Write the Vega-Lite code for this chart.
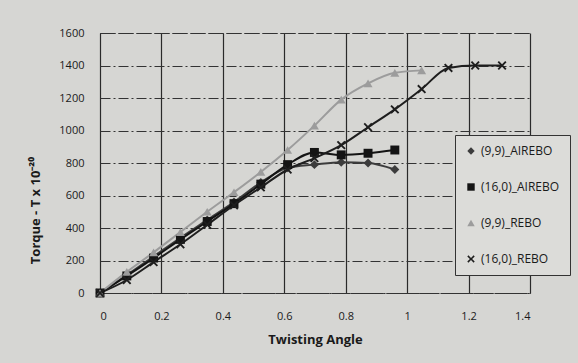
{
  "$schema": "https://vega.github.io/schema/vega-lite/v6.json",
  "width": 430,
  "height": 260,
  "autosize": {"type": "none"},
  "padding": {"left": 100, "top": 33, "right": 48, "bottom": 70},
  "background": "#d6d6d3",
  "config": {
    "view": {"stroke": "#333", "strokeWidth": 1, "strokeDash": [6, 3]},
    "font": "Open Sans"
  },
  "data": {
    "values": [
      {"s": "(9,9)_AIREBO", "x": 0, "y": 0},
      {"s": "(9,9)_AIREBO", "x": 0.0873, "y": 110},
      {"s": "(9,9)_AIREBO", "x": 0.1745, "y": 225},
      {"s": "(9,9)_AIREBO", "x": 0.2618, "y": 340},
      {"s": "(9,9)_AIREBO", "x": 0.3491, "y": 450},
      {"s": "(9,9)_AIREBO", "x": 0.4363, "y": 560},
      {"s": "(9,9)_AIREBO", "x": 0.5236, "y": 680},
      {"s": "(9,9)_AIREBO", "x": 0.6109, "y": 770},
      {"s": "(9,9)_AIREBO", "x": 0.6981, "y": 790},
      {"s": "(9,9)_AIREBO", "x": 0.7854, "y": 805},
      {"s": "(9,9)_AIREBO", "x": 0.8727, "y": 800},
      {"s": "(9,9)_AIREBO", "x": 0.9599, "y": 760},
      {"s": "(16,0)_AIREBO", "x": 0, "y": 0},
      {"s": "(16,0)_AIREBO", "x": 0.0873, "y": 105},
      {"s": "(16,0)_AIREBO", "x": 0.1745, "y": 215},
      {"s": "(16,0)_AIREBO", "x": 0.2618, "y": 330},
      {"s": "(16,0)_AIREBO", "x": 0.3491, "y": 440},
      {"s": "(16,0)_AIREBO", "x": 0.4363, "y": 550},
      {"s": "(16,0)_AIREBO", "x": 0.5236, "y": 670},
      {"s": "(16,0)_AIREBO", "x": 0.6109, "y": 790},
      {"s": "(16,0)_AIREBO", "x": 0.6981, "y": 865},
      {"s": "(16,0)_AIREBO", "x": 0.7854, "y": 850},
      {"s": "(16,0)_AIREBO", "x": 0.8727, "y": 860},
      {"s": "(16,0)_AIREBO", "x": 0.9599, "y": 880},
      {"s": "(9,9)_REBO", "x": 0, "y": 0},
      {"s": "(9,9)_REBO", "x": 0.0873, "y": 130},
      {"s": "(9,9)_REBO", "x": 0.1745, "y": 250},
      {"s": "(9,9)_REBO", "x": 0.2618, "y": 375},
      {"s": "(9,9)_REBO", "x": 0.3491, "y": 500},
      {"s": "(9,9)_REBO", "x": 0.4363, "y": 620},
      {"s": "(9,9)_REBO", "x": 0.5236, "y": 745},
      {"s": "(9,9)_REBO", "x": 0.6109, "y": 880},
      {"s": "(9,9)_REBO", "x": 0.6981, "y": 1030},
      {"s": "(9,9)_REBO", "x": 0.7854, "y": 1190},
      {"s": "(9,9)_REBO", "x": 0.8727, "y": 1290},
      {"s": "(9,9)_REBO", "x": 0.9599, "y": 1355},
      {"s": "(9,9)_REBO", "x": 1.0472, "y": 1370},
      {"s": "(16,0)_REBO", "x": 0, "y": 0},
      {"s": "(16,0)_REBO", "x": 0.0873, "y": 80},
      {"s": "(16,0)_REBO", "x": 0.1745, "y": 190},
      {"s": "(16,0)_REBO", "x": 0.2618, "y": 300},
      {"s": "(16,0)_REBO", "x": 0.3491, "y": 420},
      {"s": "(16,0)_REBO", "x": 0.4363, "y": 540},
      {"s": "(16,0)_REBO", "x": 0.5236, "y": 650},
      {"s": "(16,0)_REBO", "x": 0.6109, "y": 760},
      {"s": "(16,0)_REBO", "x": 0.6981, "y": 830},
      {"s": "(16,0)_REBO", "x": 0.7854, "y": 910},
      {"s": "(16,0)_REBO", "x": 0.8727, "y": 1020},
      {"s": "(16,0)_REBO", "x": 0.9599, "y": 1130},
      {"s": "(16,0)_REBO", "x": 1.0472, "y": 1255},
      {"s": "(16,0)_REBO", "x": 1.1345, "y": 1385},
      {"s": "(16,0)_REBO", "x": 1.2217, "y": 1400},
      {"s": "(16,0)_REBO", "x": 1.309, "y": 1400}
    ]
  },
  "encoding": {
    "x": {
      "field": "x", "type": "quantitative",
      "scale": {"domain": [0, 1.4], "nice": false, "zero": false},
      "axis": {
        "title": "Twisting Angle",
        "values": [0, 0.2, 0.4, 0.6, 0.8, 1, 1.2, 1.4],
        "format": "~g",
        "grid": true, "gridColor": "#2a2a2a", "gridWidth": 1.2, "gridOpacity": 1,
        "domain": true, "domainColor": "#333", "domainDash": [8, 3],
        "ticks": false,
        "labelPadding": 17, "labelFontSize": 11, "labelColor": "#1a1a1a", "labelFont": "Open Sans",
        "titleFontSize": 13, "titleFontWeight": "bold", "titleColor": "#1a1a1a", "titlePadding": 12, "titleFont": "Open Sans"
      }
    },
    "y": {
      "field": "y", "type": "quantitative",
      "scale": {"domain": [0, 1600], "nice": false},
      "axis": {
        "title": "Torque - T x 10⁻²⁰",
        "values": [0, 200, 400, 600, 800, 1000, 1200, 1400, 1600],
        "format": "d",
        "grid": true, "gridColor": "#333", "gridWidth": 1.2, "gridDash": [10, 3, 2, 3], "gridOpacity": 1,
        "domain": false,
        "ticks": false,
        "labelPadding": 16, "labelFontSize": 11, "labelColor": "#1a1a1a", "labelFont": "Open Sans",
        "titleFontSize": 13, "titleFontWeight": "bold", "titleColor": "#1a1a1a", "titleFont": "Open Sans",
        "titleAngle": -90, "titleX": -65, "titleY": 177, "titleAlign": "center", "titleBaseline": "middle"
      }
    },
    "color": {
      "field": "s", "type": "nominal",
      "scale": {"domain": ["(9,9)_AIREBO", "(16,0)_AIREBO", "(9,9)_REBO", "(16,0)_REBO"], "range": ["#3c3c3c", "#141414", "#9c9c9c", "#1e1e1e"]},
      "legend": {
        "title": null, "orient": "none", "legendX": 355, "legendY": 102,
        "fillColor": "#dcdcd9", "strokeColor": "#333", "padding": 10,
        "rowPadding": 24, "labelFontSize": 12, "labelColor": "#1a1a1a", "labelFont": "Open Sans",
        "symbolSize": 55, "symbolStrokeWidth": 0, "labelOffset": 4, "labelLimit": 200
      }
    }
  },
  "layer": [
    {
      "mark": {"type": "line", "interpolate": "monotone", "strokeWidth": 2}
    },
    {
      "mark": {"type": "point", "filled": true, "size": 80, "opacity": 1},
      "encoding": {
        "shape": {
          "field": "s", "type": "nominal",
          "scale": {"domain": ["(9,9)_AIREBO", "(16,0)_AIREBO", "(9,9)_REBO", "(16,0)_REBO"], "range": ["diamond", "square", "triangle-up", "M-1,-0.7L-0.7,-1L0,-0.3L0.7,-1L1,-0.7L0.3,0L1,0.7L0.7,1L0,0.3L-0.7,1L-1,0.7L-0.3,0Z"]},
          "legend": {
            "title": null, "orient": "none", "legendX": 355, "legendY": 102,
            "fillColor": "#dcdcd9", "strokeColor": "#333", "padding": 10,
            "rowPadding": 24, "labelFontSize": 12, "labelColor": "#1a1a1a", "labelFont": "Open Sans",
            "symbolSize": 55, "symbolStrokeWidth": 0, "labelOffset": 4, "labelLimit": 200
          }
        }
      }
    }
  ]
}
